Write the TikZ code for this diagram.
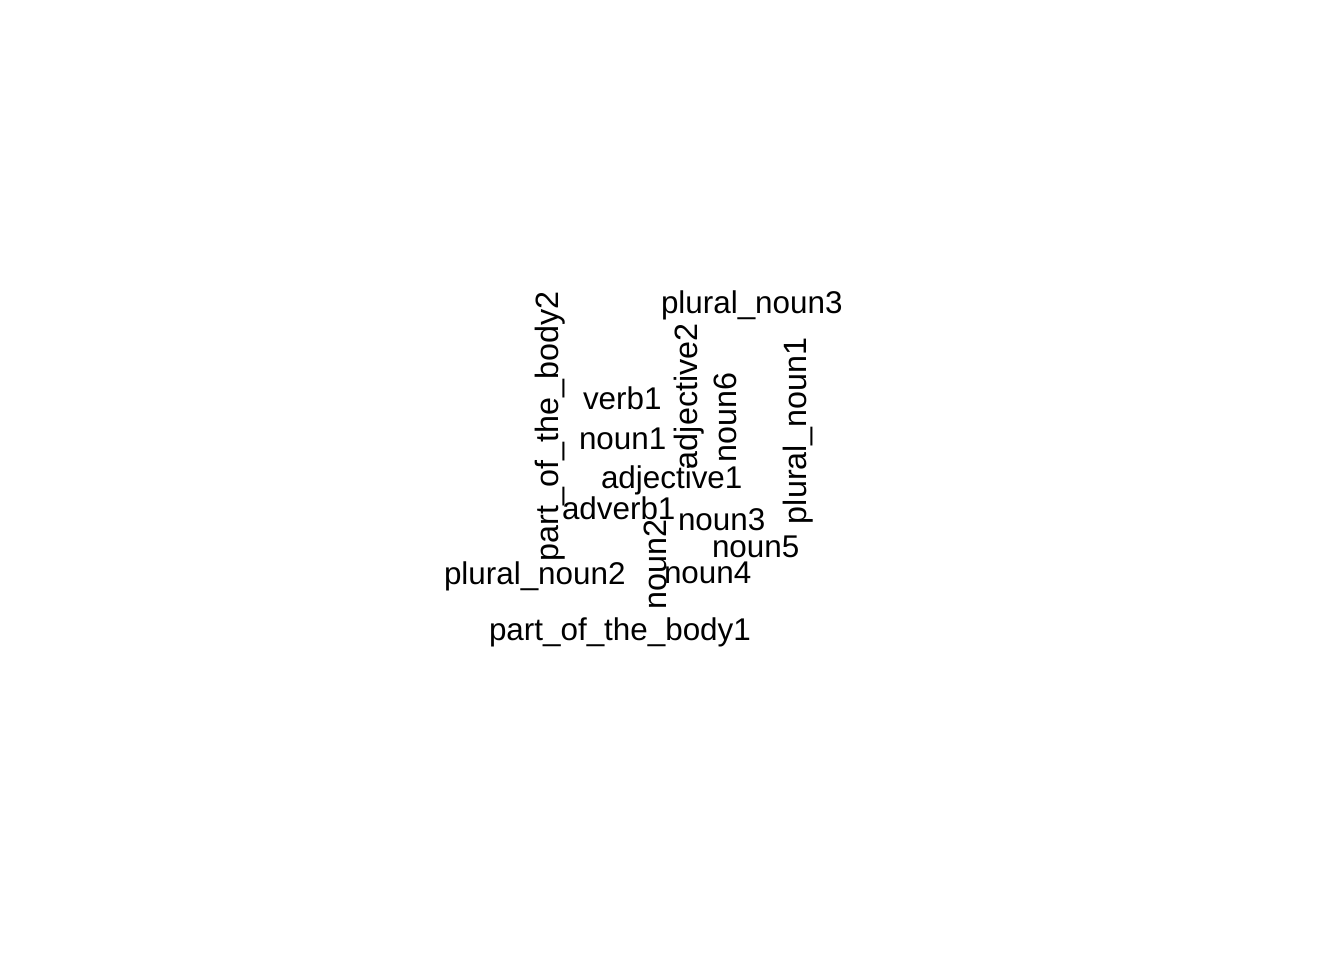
\documentclass[tikz,border=0pt]{standalone}
\usepackage{fontspec}
\setmainfont{Liberation Sans}
\begin{document}
\begin{tikzpicture}[x=1pt,y=1pt,
  word/.style={inner sep=0pt,outer sep=0pt,anchor=base west,font=\fontsize{31.4}{37}\selectfont,text=black},
  vword/.style={word,rotate=90,font=\fontsize{32.3}{38}\selectfont}]
\useasboundingbox[fill=white] (0,0) rectangle (1344,-960);
% horizontal words
\node[word] (pn3) at (661,-313) {plural\_noun3};
\node[word] (v1) at (583,-409) {verb1};
\node[word] (n1) at (579,-449) {noun1};
\node[word] (adj1) at (601,-488) {adjective1};
\node[word] (adv1) at (562,-519) {adverb1};
\node[word] (n3) at (678,-530) {noun3};
\node[word] (n5) at (712,-557) {noun5};
\node[word] (n4) at (664,-583) {noun4};
\node[word] (pn2) at (444,-584) {plural\_noun2};
\node[word] (pb1) at (489,-640) {part\_of\_the\_body1};
% vertical words
\node[vword] (pb2) at (558,-561) {part\_of\_the\_body2};
\node[vword] (adj2) at (697,-469) {adjective2};
\node[vword] (n6) at (736,-462) {noun6};
\node[vword] (pn1) at (806,-524) {plural\_noun1};
\node[vword] (n2) at (666,-609) {noun2};
\end{tikzpicture}
\end{document}
